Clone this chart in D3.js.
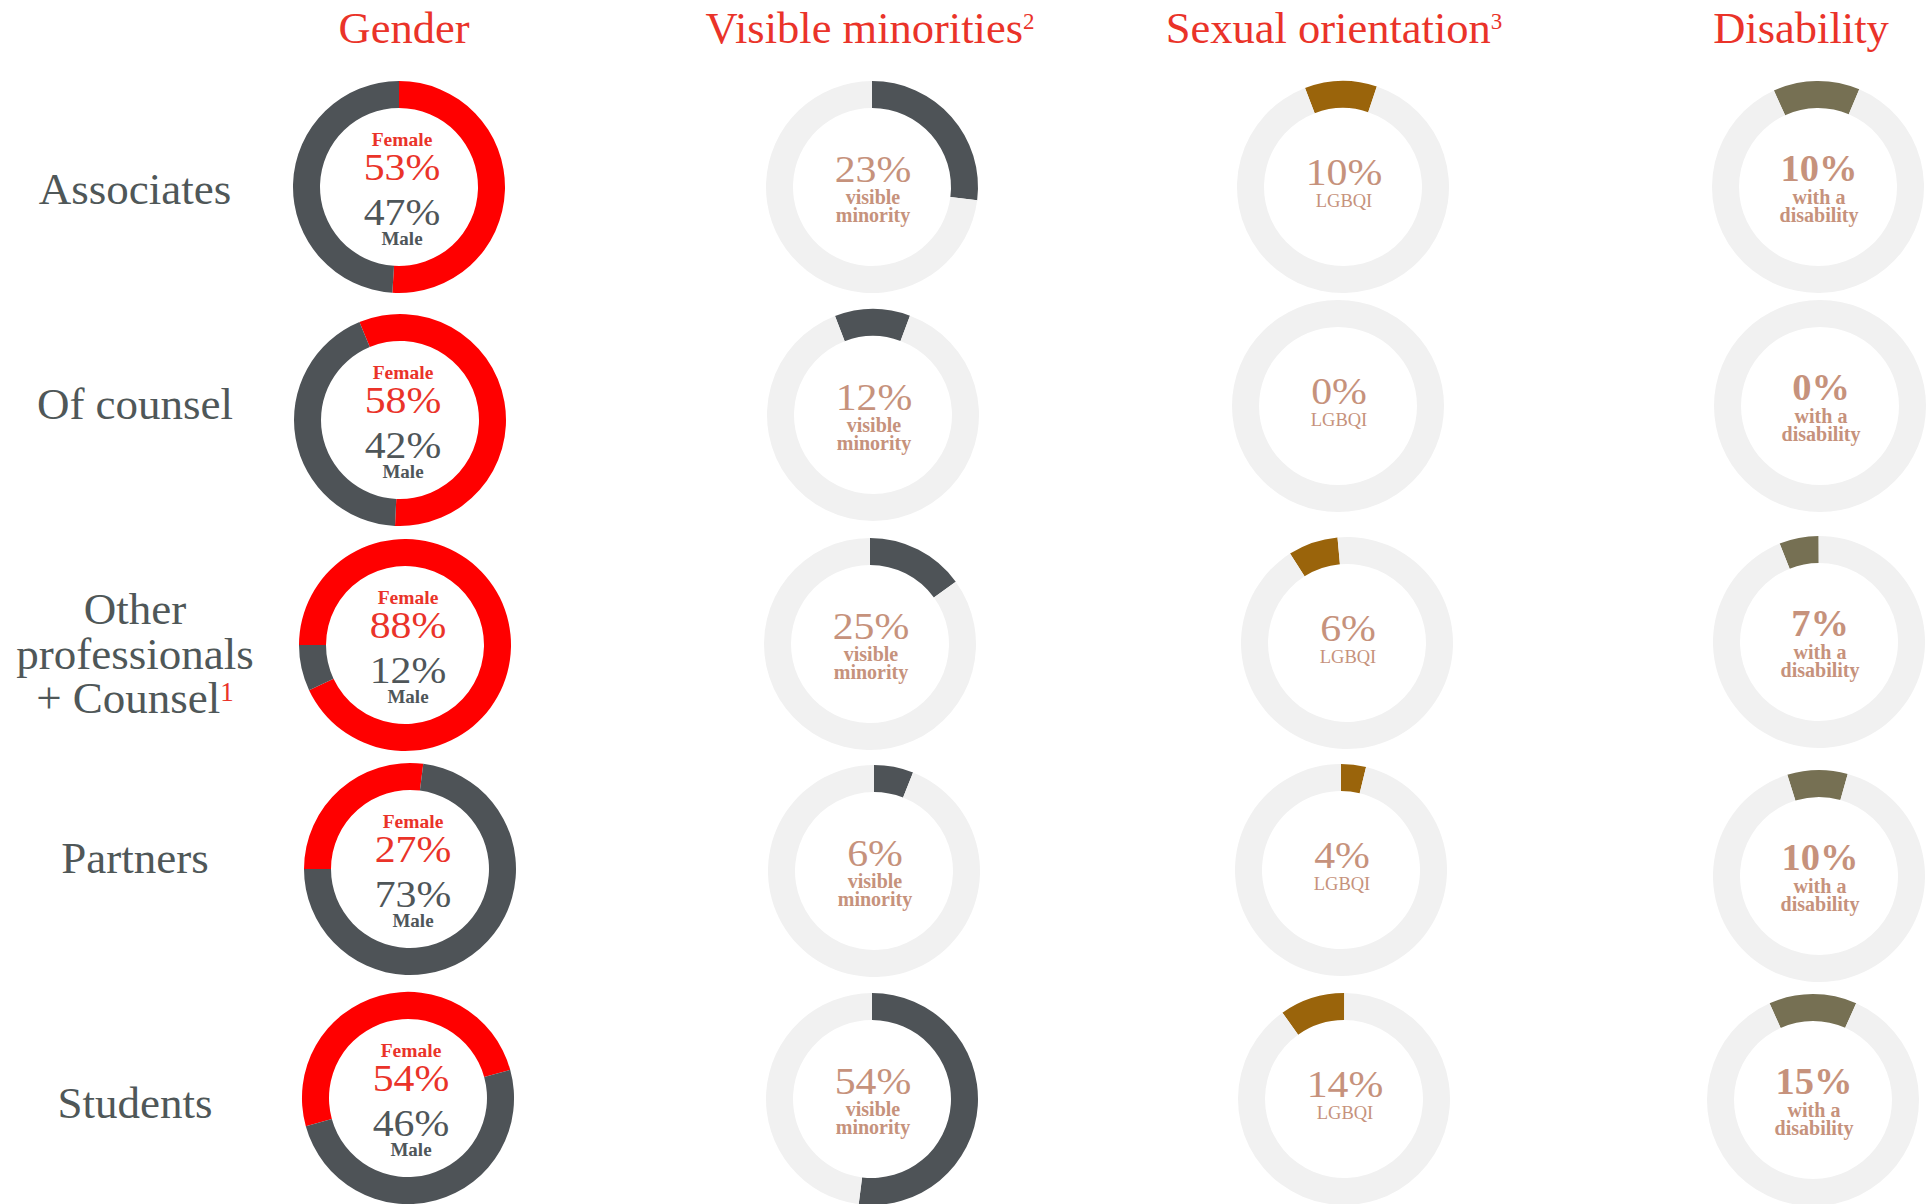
<!DOCTYPE html>
<html><head><meta charset="utf-8">
<script src="https://cdn.jsdelivr.net/npm/d3@7"></script>
<style>html,body{margin:0;padding:0;background:#fff}svg{display:block}</style>
</head><body>
<svg id="chart" width="1931" height="1204"></svg>
<script>
// ---------- data ----------
const categories = ["Associates", "Of counsel", "Other professionals + Counsel", "Partners", "Students"];
const categoryLines = [["Associates"], ["Of counsel"], ["Other", "professionals", "+ Counsel"], ["Partners"], ["Students"]];
const categoryNotes = ["", "", "1", "", ""];
const columns = ["Gender", "Visible minorities", "Sexual orientation", "Disability"];
const columnNotes = ["", "2", "3", ""];

// printed percentages
const femalePct = [53, 58, 88, 27, 54];
const malePct = [47, 42, 12, 73, 46];
const visibleMinorityPct = [23, 12, 25, 6, 54];
const lgbqiPct = [10, 0, 6, 4, 14];
const disabilityPct = [10, 0, 7, 10, 15];

// arc shares as actually drawn in the picture (%)
const femaleArc = [51, 57, 93, 27, 50];
const visibleMinorityArc = [27, 11.5, 15, 6, 52];
const lgbqiArc = [11, 0, 7.6, 3.8, 9.9];
const disabilityArc = [13.2, 0, 6, 9.2, 13.4];

// ---------- layout (not data) ----------
// arc start angles, degrees clockwise from 12 o'clock
const genderStart = [0, -22.5, -90, -90, -105.4];
const visibleStart = [0, -21, 0, 0, 0];
const lgbqiStart = [-21, 0, -32.5, 0, -35.5];
const disabilityStart = [-24.6, 0, -21.8, -17.4, -24.2];
// small per-ring offsets [col][row] -> [dx, dy]
const nudges = [
  [[-4, 0], [-3, 6], [2, 2], [7, -2], [5, -1]],
  [[0, 0], [1, 1], [-2, 1], [2, 0], [0, 0]],
  [[1, 0], [-4, -8], [5, 0], [-1, -1], [2, 0]],
  [[0, 0], [2, -8], [1, -1], [1, 5], [-5, 1]]
];
const labelDy = [17, 5, -19, 2, 19];

const C = {
  titleRed: "#ea3329", ringRed: "#ff0000", ringGray: "#4e5357", textGray: "#4f5659",
  light: "#f1f1f1", brown: "#9a640b", olive: "#767053", tan: "#c6927c", label: "#4f5758"
};
const FONT = "'Liberation Serif', 'Times New Roman', serif";

const svg = d3.select("#chart");
const colX = d3.scaleOrdinal().domain(columns).range([403, 872, 1342, 1818]);
const rowY = d3.scaleOrdinal().domain(categories).range([187, 414, 643, 871, 1099]);
const titleX = d3.scaleOrdinal().domain(columns).range([404, 870, 1334, 1801]);
const arc = d3.arc().innerRadius(79).outerRadius(106);
const deg = Math.PI / 180;

function pieFor(startDeg) {
  return d3.pie().sort(null).value(d => d.v)
    .startAngle(startDeg * deg).endAngle(startDeg * deg + 2 * Math.PI);
}

// ---------- titles ----------
columns.forEach((c, i) => {
  const t = svg.append("text")
    .attr("x", titleX(c)).attr("y", 43).attr("text-anchor", "middle")
    .attr("font-family", FONT).attr("font-size", 44.5).attr("fill", C.titleRed);
  t.append("tspan").text(c);
  if (columnNotes[i]) t.append("tspan").attr("font-size", 23).attr("dy", -14).text(columnNotes[i]);
});

// ---------- row labels ----------
categories.forEach((cat, r) => {
  const lines = categoryLines[r];
  lines.forEach((ln, k) => {
    const t = svg.append("text")
      .attr("x", 135).attr("y", rowY(cat) + labelDy[r] + k * 44.5)
      .attr("text-anchor", "middle")
      .attr("font-family", FONT).attr("font-size", 45).attr("fill", C.label);
    t.append("tspan").text(ln);
    if (k === lines.length - 1 && categoryNotes[r]) {
      t.append("tspan").attr("font-size", 27).attr("dy", -12).attr("fill", C.titleRed).text(categoryNotes[r]);
    }
  });
});

function txt(g, s, x, dy, size, weight, fill, sx) {
  g.append("text").attr("x", x / (sx || 1)).attr("y", dy).attr("text-anchor", "middle")
    .attr("transform", sx ? `scale(${sx},1)` : null)
    .attr("font-family", FONT).attr("font-size", size).attr("font-weight", weight)
    .attr("fill", fill).text(s);
}

// ---------- rings ----------
categories.forEach((cat, r) => {
  // Gender
  {
    const [dx, dy] = nudges[0][r];
    const g = svg.append("g").attr("transform", `translate(${colX(columns[0]) + dx},${rowY(cat) + dy})`);
    const slices = pieFor(genderStart[r])([
      { v: femaleArc[r], c: C.ringRed },
      { v: 100 - femaleArc[r], c: C.ringGray }
    ]);
    g.selectAll("path").data(slices).join("path").attr("d", arc).attr("fill", d => d.data.c);
    txt(g, "Female", 3, -41, 19.5, "bold", C.titleRed);
    txt(g, femalePct[r] + "%", 3, -7, 37, "normal", C.titleRed, 1.13);
    txt(g, malePct[r] + "%", 3, 38.5, 37, "normal", C.textGray, 1.13);
    txt(g, "Male", 3, 58, 19, "bold", C.textGray);
  }
  // single-share rings
  const specs = [
    { col: 1, arcV: visibleMinorityArc, start: visibleStart, pct: visibleMinorityPct, color: C.ringGray,
      pctDy: -5, pctW: "normal", pctSx: 1.13, lines: ["visible", "minority"], lineDy: [16.5, 35], lineW: "bold", lineSize: 20 },
    { col: 2, arcV: lgbqiArc, start: lgbqiStart, pct: lgbqiPct, color: C.brown,
      pctDy: -2, pctW: "normal", pctSx: 1.13, lines: ["LGBQI"], lineDy: [19.5], lineW: "normal", lineSize: 18.5 },
    { col: 3, arcV: disabilityArc, start: disabilityStart, pct: disabilityPct, color: C.olive,
      pctDy: -6, pctW: "bold", pctSx: 1.0, lines: ["with a", "disability"], lineDy: [16.5, 35], lineW: "bold", lineSize: 20 }
  ];
  specs.forEach(s => {
    const [dx, dy] = nudges[s.col][r];
    const g = svg.append("g").attr("transform", `translate(${colX(columns[s.col]) + dx},${rowY(cat) + dy})`);
    const slices = pieFor(s.start[r])([
      { v: s.arcV[r], c: s.color },
      { v: 100 - s.arcV[r], c: C.light }
    ]);
    g.selectAll("path").data(slices).join("path").attr("d", arc).attr("fill", d => d.data.c);
    txt(g, s.pct[r] + "%", 1, s.pctDy, s.pctW === "bold" ? 38.5 : 37, s.pctW, C.tan, s.pctSx);
    s.lines.forEach((ln, k) => txt(g, ln, 1, s.lineDy[k], s.lineSize, s.lineW, C.tan));
  });
});
</script>
</body></html>
